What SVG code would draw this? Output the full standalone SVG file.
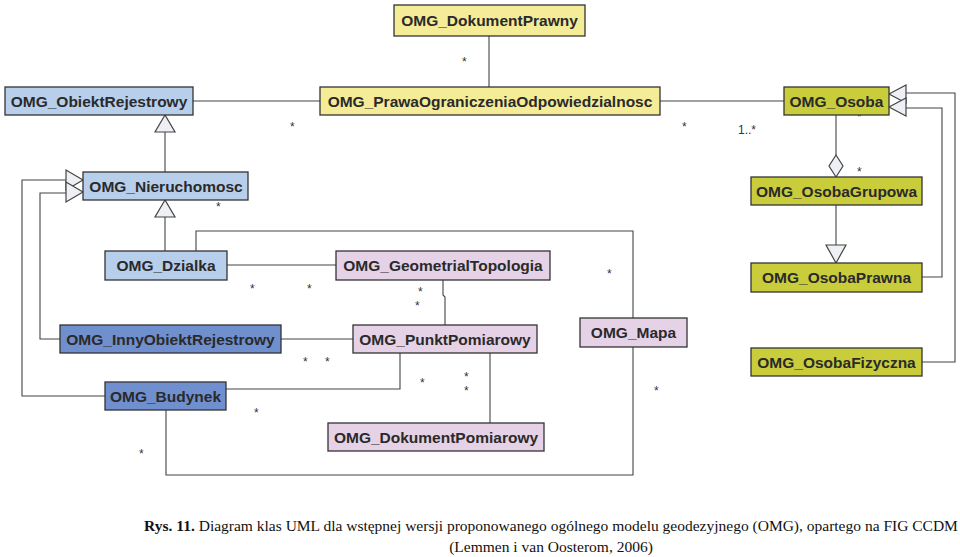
<svg xmlns="http://www.w3.org/2000/svg" width="960" height="557" viewBox="0 0 960 557">
<style>
.b{stroke:#333;stroke-width:1.3}
.y{fill:#f5ec98}.lb{fill:#b8cfec}.db{fill:#6f8fcf}.p{fill:#e6d2e6}.g{fill:#c9cd3c}
.t{font-family:"Liberation Sans",Arial,sans-serif;font-weight:bold;font-size:15.5px;fill:#2a2a2a;text-anchor:middle}
.c path,.c line,.c polyline{fill:none;stroke:#444;stroke-width:1.1}
.h{fill:#eef0f5;stroke:#444;stroke-width:1.2}
.s{font-family:"Liberation Sans",Arial,sans-serif;font-size:12px;fill:#333}
.cap{font-family:"Liberation Serif","Times New Roman",serif;font-size:15.5px;fill:#111;text-anchor:middle}
</style>
<rect width="960" height="557" fill="#fff"/>
<g class="c" id="connectors">
<line x1="489" y1="36" x2="489" y2="87"/>
<line x1="193" y1="101" x2="320" y2="101"/>
<line x1="660" y1="101" x2="784" y2="101"/>
<line x1="165" y1="172" x2="165" y2="132"/>
<line x1="165" y1="251" x2="165" y2="217"/>
<polyline points="60,339 40,339 40,193 66,193"/>
<polyline points="105,396 22,396 22,180 66,180"/>
<polyline points="196,251 196,231 633,231 633,318"/>
<line x1="227" y1="265" x2="336" y2="265"/>
<polyline points="443,280 443,295 445,297 445,325"/>
<line x1="281" y1="339" x2="353" y2="339"/>
<polyline points="226,389 400,389 400,353"/>
<line x1="490" y1="353" x2="490" y2="423"/>
<polyline points="166,410 166,475 633,475 633,347"/>
<line x1="836" y1="115" x2="836" y2="155"/>
<line x1="836" y1="205" x2="836" y2="245"/>
<polyline points="922,277 942,277 942,108 906,108"/>
<polyline points="922,362 955,362 955,93 906,93"/>
<polygon class="h" points="165,115 155,132 175,132"/>
<polygon class="h" points="165,200 155,217 175,217"/>
<polygon class="h" points="83,180 66,170 66,190"/>
<polygon class="h" points="83,192 66,182 66,202"/>
<polygon class="h" points="836,155 829,166 836,177 843,166"/>
<polygon class="h" points="836,263 826,245 846,245"/>
<polygon class="h" points="889,94 906,85 906,103"/>
<polygon class="h" points="889,107 906,98 906,116"/>
</g>
<g id="mult" class="s">
<text x="462" y="66">*</text><text x="290" y="131">*</text><text x="682" y="131">*</text><text x="738" y="134">1..*</text>
<text x="216" y="211">*</text><text x="607" y="278">*</text><text x="250" y="293">*</text><text x="307" y="293">*</text>
<text x="418" y="296">*</text><text x="415" y="310">*</text><text x="303" y="366">*</text><text x="325" y="366">*</text>
<text x="420" y="387">*</text><text x="464" y="381">*</text><text x="464" y="395">*</text><text x="254" y="417">*</text>
<text x="139" y="458">*</text><text x="654" y="395">*</text><text x="857" y="121">*</text><text x="857" y="176">*</text>
</g>
<g id="DokumentPrawny"><rect class="b y" x="394" y="5" width="191" height="31"/><text class="t" x="489.5" y="26">OMG_DokumentPrawny</text></g>
<g id="ObiektRejestrowy"><rect class="b lb" x="5" y="87" width="188" height="28"/><text class="t" x="99" y="107">OMG_ObiektRejestrowy</text></g>
<g id="Prawa"><rect class="b y" x="320" y="87" width="340" height="28"/><text class="t" x="490" y="107">OMG_PrawaOgraniczeniaOdpowiedzialnosc</text></g>
<g id="Osoba"><rect class="b g" x="784" y="87" width="105" height="28"/><text class="t" x="836.5" y="107">OMG_Osoba</text></g>
<g id="Nieruchomosc"><rect class="b lb" x="83" y="172" width="165" height="28"/><text class="t" x="166" y="192">OMG_Nieruchomosc</text></g>
<g id="Dzialka"><rect class="b lb" x="105" y="251" width="122" height="29"/><text class="t" x="166" y="271">OMG_Dzialka</text></g>
<g id="GeometrialTopologia"><rect class="b p" x="336" y="251" width="214" height="29"/><text class="t" x="443" y="271">OMG_GeometrialTopologia</text></g>
<g id="InnyObiektRejestrowy"><rect class="b db" x="60" y="325" width="221" height="28"/><text class="t" x="170.5" y="345">OMG_InnyObiektRejestrowy</text></g>
<g id="PunktPomiarowy"><rect class="b p" x="353" y="325" width="184" height="28"/><text class="t" x="445" y="345">OMG_PunktPomiarowy</text></g>
<g id="Mapa"><rect class="b p" x="580" y="318" width="107" height="29"/><text class="t" x="633.5" y="338">OMG_Mapa</text></g>
<g id="Budynek"><rect class="b db" x="105" y="382" width="121" height="28"/><text class="t" x="165.5" y="402">OMG_Budynek</text></g>
<g id="DokumentPomiarowy"><rect class="b p" x="328" y="423" width="216" height="28"/><text class="t" x="436" y="443">OMG_DokumentPomiarowy</text></g>
<g id="OsobaGrupowa"><rect class="b g" x="751" y="177" width="171" height="28"/><text class="t" x="836.5" y="197">OMG_OsobaGrupowa</text></g>
<g id="OsobaPrawna"><rect class="b g" x="751" y="263" width="171" height="29"/><text class="t" x="836.5" y="283">OMG_OsobaPrawna</text></g>
<g id="OsobaFizyczna"><rect class="b g" x="751" y="348" width="171" height="28"/><text class="t" x="836.5" y="368">OMG_OsobaFizyczna</text></g>
<text class="cap" x="551" y="531"><tspan font-weight="bold">Rys. 11.</tspan> Diagram klas UML dla wstępnej wersji proponowanego ogólnego modelu geodezyjnego (OMG), opartego na FIG CCDM</text>
<text class="cap" x="551" y="552">(Lemmen i van Oosterom, 2006)</text>
</svg>
